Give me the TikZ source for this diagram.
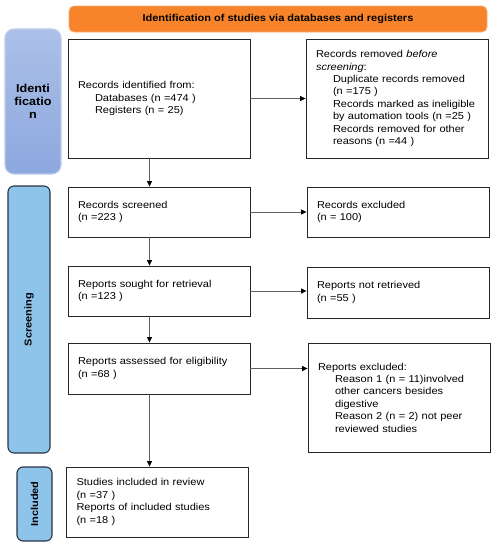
\documentclass[tikz,border=0pt]{standalone}
\usepackage{fontspec}
\setmainfont{Liberation Sans}[FakeStretch=1.1]
\usepackage{xcolor}
\usetikzlibrary{arrows.meta}

\definecolor{bannerorange}{RGB}{247,132,42}
\definecolor{bannerline}{RGB}{250,175,120}
\definecolor{idtop}{RGB}{172,192,232}
\definecolor{idbottom}{RGB}{140,168,222}
\definecolor{phaseblue}{RGB}{143,196,234}
\definecolor{phaseline}{RGB}{40,52,66}
\definecolor{linkgray}{RGB}{95,95,95}

\newcommand{\ind}{\hspace*{17pt}}

\tikzset{
  flowbox/.style={draw=black!85, line width=0.9pt, rectangle, align=left,
    text width=162pt, inner xsep=10pt, minimum width=182pt,
    font=\fontsize{10}{12.4}\selectfont},
  phasebox/.style={draw=phaseline, fill=phaseblue, line width=1.1pt,
    rounded corners=6pt, font=\fontsize{10}{12}\selectfont\bfseries},
  link/.style={draw=linkgray, line width=0.7pt,
    -{Triangle[length=5.5pt,width=5pt,color=black]}},
}

\begin{document}
\begin{tikzpicture}[x=1pt,y=-1pt]
\useasboundingbox (0,0) rectangle (495,550);

\node[draw=bannerline, fill=bannerorange, rounded corners=5pt, line width=0.8pt,
  minimum width=418pt, minimum height=26pt,
  font=\fontsize{10}{12}\selectfont\bfseries] (banner) at (278,19)
  {Identification of studies via databases and registers};

\node[phasebox, draw=idtop!80!white, top color=idtop, bottom color=idbottom,
  minimum width=56pt, minimum height=145pt, align=center, rounded corners=9pt,
  font=\fontsize{11.5}{13}\selectfont\bfseries]
  (identside) at (33,101.5) {Identi\\ficatio\\n};
\node[phasebox, rotate=90, minimum width=267pt, minimum height=42pt]
  (screenside) at (29,319.5) {Screening};
\node[phasebox, rotate=90, minimum width=74pt, minimum height=35pt]
  (inclside) at (34.5,504) {Included};

\node[flowbox, minimum height=119pt] (identified) at (159,98.5)
  {Records identified from:\\
   \ind Databases (n =474 )\\
   \ind Registers (n = 25)};
\node[flowbox, minimum height=119pt] (removed) at (397,98.5)
  {Records removed \textit{before}\\
   \textit{screening}:\\
   \ind Duplicate records removed\\
   \ind (n =175 )\\
   \ind Records marked as ineligible\\
   \ind by automation tools (n =25 )\\
   \ind Records removed for other\\
   \ind reasons (n =44 )};

\node[flowbox, minimum height=50pt] (screened) at (159,212)
  {Records screened\\(n =223 )};
\node[flowbox, minimum height=50pt] (excluded) at (398,212)
  {Records excluded\\(n = 100)};

\node[flowbox, minimum height=50pt] (sought) at (159,291)
  {Reports sought for retrieval\\(n =123 )};
\node[flowbox, minimum height=51pt] (notretrieved) at (398,292.5)
  {Reports not retrieved\\(n =55 )};

\node[flowbox, minimum height=51pt] (assessed) at (159,368.5)
  {Reports assessed for eligibility\\(n =68 )};
\node[flowbox, minimum height=109pt] (reportsexcl) at (399,397.5)
  {Reports excluded:\\
   \ind Reason 1 (n = 11)involved\\
   \ind other cancers besides\\
   \ind digestive\\
   \ind Reason 2 (n = 2) not peer\\
   \ind reviewed studies\\[8pt]};

\node[flowbox, minimum height=70pt] (included) at (157.5,502)
  {Studies included in review\\
   (n =37 )\\
   Reports of included studies\\
   (n =18 )};

\coordinate (spine) at (149.5,0);

\draw[link] (identified.east) -- (identified.east -| removed.west);
\draw[link] (screened.east) -- (screened.east -| excluded.west);
\draw[link] (sought.east) -- (sought.east -| notretrieved.west);
\draw[link] (assessed.east) -- (assessed.east -| reportsexcl.west);

\draw[link] (identified.south -| spine) -- (screened.north -| spine);
\draw[link] (screened.south -| spine) -- (sought.north -| spine);
\draw[link] (sought.south -| spine) -- (assessed.north -| spine);
\draw[link] (assessed.south -| spine) -- (included.north -| spine);

\end{tikzpicture}
\end{document}
